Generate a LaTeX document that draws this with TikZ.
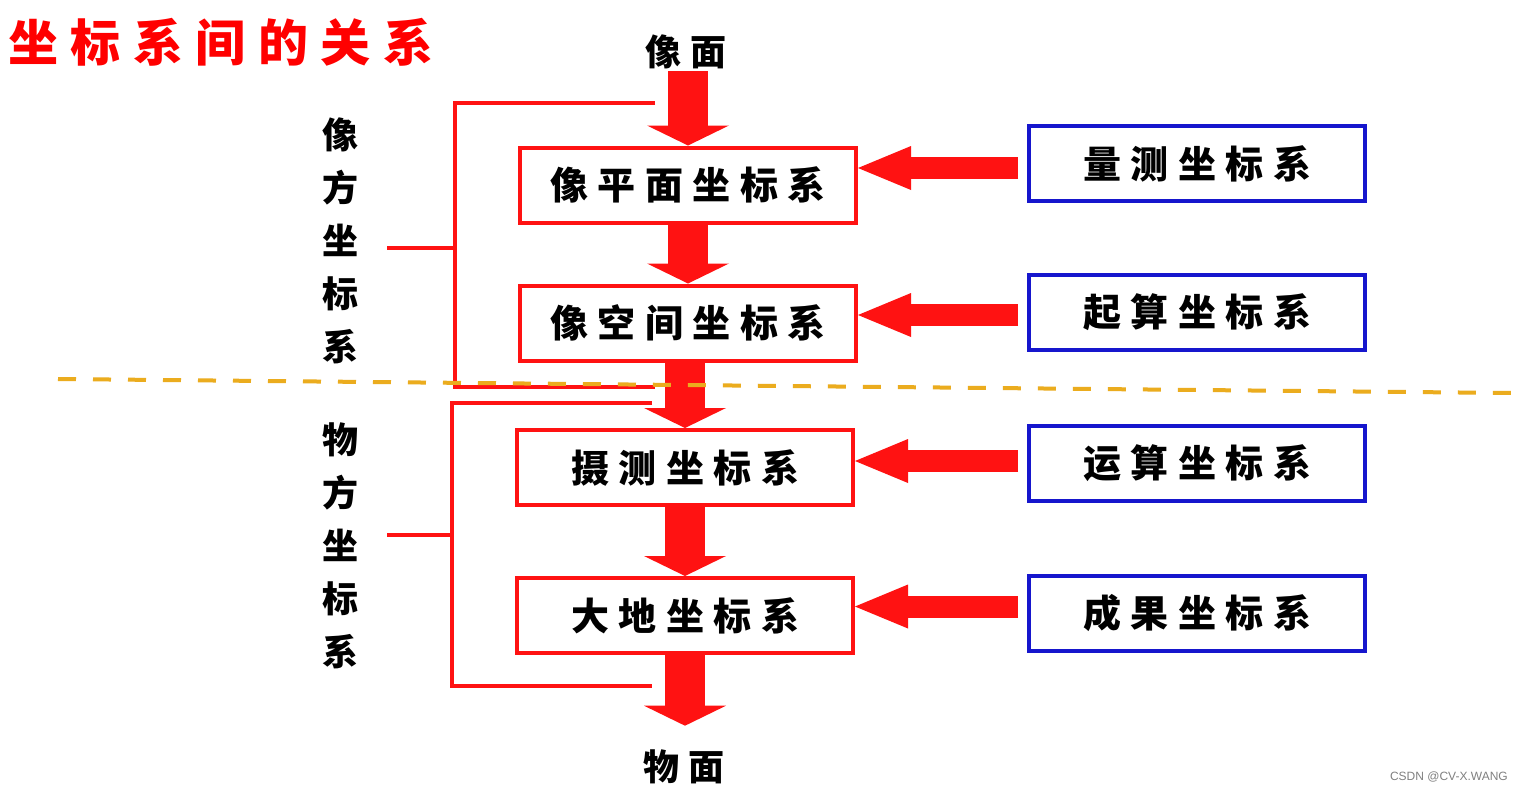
\documentclass[tikz,border=0pt]{standalone}
\usepackage{fontspec}
\setmainfont{Liberation Sans}
\newfontfamily\cjk{Noto Sans CJK SC}
\usetikzlibrary{arrows.meta, positioning, calc}
\definecolor{boxred}{RGB}{255,18,18}
\definecolor{boxblue}{RGB}{22,22,205}
\definecolor{dashgold}{RGB}{235,172,30}
\newcommand{\gap}{\hspace{0.25em}}

\begin{document}
\begin{tikzpicture}[
    x=1pt, y=-1pt,
    redbox/.style={rectangle, draw=boxred, line width=4pt, fill=white,
        minimum width=336pt, minimum height=75pt, inner sep=0pt,
        font=\cjk\bfseries\fontsize{38}{40}\selectfont},
    bluebox/.style={redbox, draw=boxblue},
    downarrow/.style={draw=boxred, line width=40pt,
        -{Triangle[length=20pt, width=82pt, line width=0pt]}},
    leftarrow/.style={draw=boxred, line width=22pt,
        -{Triangle[length=53pt, width=44pt, line width=0pt]}},
    bracket/.style={draw=boxred, line width=4pt},
    sidelabel/.style={align=center, inner sep=0pt,
        font=\cjk\bfseries\fontsize{36}{53}\selectfont},
    face/.style={inner sep=2pt, font=\cjk\bfseries\fontsize{36}{40}\selectfont}
]
\useasboundingbox[fill=white] (0,0) rectangle (1522,793);

% title
\node[anchor=west, inner sep=0pt, text=red, font=\cjk\bfseries\fontsize{50}{52}\selectfont]
    (title) at (8,42) {坐\gap 标\gap 系\gap 间\gap 的\gap 关\gap 系};

% image side / object side chain
\node[face] (top) at (686,52) {像\gap 面};
\node[redbox] (b1) at (688,185) {像\gap 平\gap 面\gap 坐\gap 标\gap 系};
\node[redbox] (b2) at (688,323) {像\gap 空\gap 间\gap 坐\gap 标\gap 系};
\node[redbox] (b3) at (685,467.5) {摄\gap 测\gap 坐\gap 标\gap 系};
\node[redbox] (b4) at (685,615.5) {大\gap 地\gap 坐\gap 标\gap 系};
\node[face] (bot) at (684,767) {物\gap 面};

% auxiliary systems
\node[bluebox] (m1) at (1197,163.5) {量\gap 测\gap 坐\gap 标\gap 系};
\node[bluebox] (m2) at (1197,312.5) {起\gap 算\gap 坐\gap 标\gap 系};
\node[bluebox] (m3) at (1197,463) {运\gap 算\gap 坐\gap 标\gap 系};
\node[bluebox] (m4) at (1197,613.5) {成\gap 果\gap 坐\gap 标\gap 系};

% side labels
\node[sidelabel] (lbl1) at (340,241) {像\\方\\坐\\标\\系};
\node[sidelabel] (lbl2) at (340,545.5) {物\\方\\坐\\标\\系};

% main flow
\draw[downarrow] (b1.north |- top.south) -- (b1.north);
\draw[downarrow] (b1.south) -- (b2.north);
\draw[downarrow] (b3.north |- b2.south) -- (b3.north);
\draw[downarrow] (b3.south) -- (b4.north);
\draw[downarrow, shorten >=22pt] (b4.south) -- (b4.south |- bot.north);

% conversions
\draw[leftarrow] ([xshift=-9pt, yshift=-4.5pt]m1.west) -- ([yshift=-4.5pt]m1.west -| b1.east);
\draw[leftarrow] ([xshift=-9pt, yshift=-2.5pt]m2.west) -- ([yshift=-2.5pt]m2.west -| b2.east);
\draw[leftarrow] ([xshift=-9pt, yshift=2pt]m3.west) -- ([yshift=2pt]m3.west -| b3.east);
\draw[leftarrow] ([xshift=-9pt, yshift=7pt]m4.west) -- ([yshift=7pt]m4.west -| b4.east);

% brackets
\coordinate (i1) at (655,103);
\coordinate (i2) at (455,103);
\coordinate (i3) at (455,387);
\coordinate (i4) at (655,387);
\coordinate (t1) at (387,248);
\draw[bracket] (i1) -- (i2) -- (i3) -- (i4);
\draw[bracket] (t1) -- (t1 -| i2);
\coordinate (o1) at (652,403);
\coordinate (o2) at (452,403);
\coordinate (o3) at (452,686);
\coordinate (o4) at (652,686);
\coordinate (t2) at (387,535);
\draw[bracket] (o1) -- (o2) -- (o3) -- (o4);
\draw[bracket] (t2) -- (t2 -| o2);

% divider
\coordinate (d1) at (58,379);
\coordinate (d2) at (1512,393);
\draw[dashgold, line width=4pt, dash pattern=on 18pt off 17pt] (d1) -- (d2);

\node[anchor=east, text=gray, inner sep=0pt, font=\fontsize{12}{14}\selectfont]
    (mark) at (1508,777) {CSDN @CV-X.WANG};
\end{tikzpicture}
\end{document}
